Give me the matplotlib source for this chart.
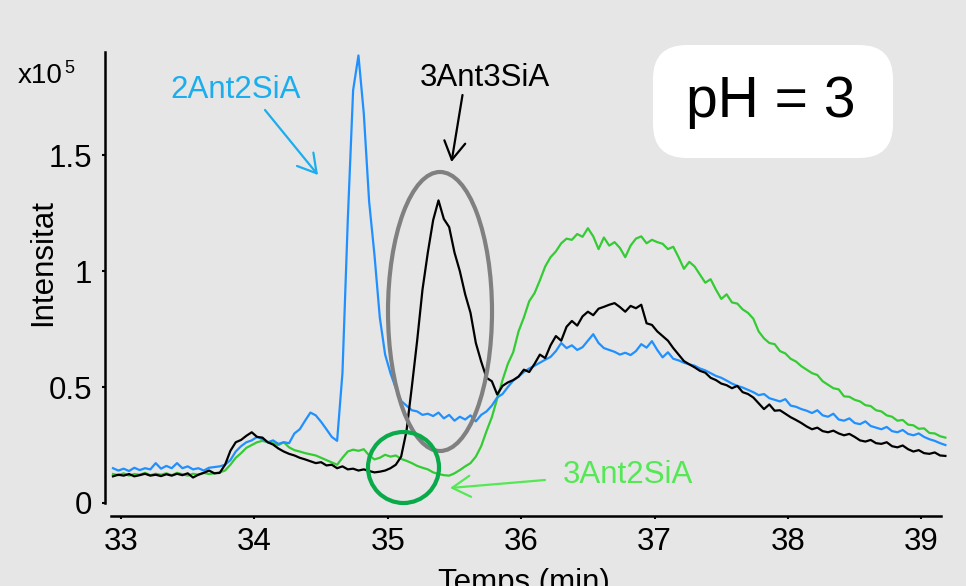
import numpy as np
import matplotlib
matplotlib.use("Agg")
import matplotlib.pyplot as plt
from matplotlib.patches import Ellipse, FancyBboxPatch

plt.rcParams['font.family'] = ['Liberation Sans', 'DejaVu Sans']

# sampling times (min)
time = np.round(32.94 + 0.04 * np.arange(157), 2)

# 2Ant2SiA (blue)
blue = [
    0.150, 0.140, 0.148, 0.138, 0.152, 0.142, 0.150, 0.145, 0.172, 0.148,
    0.160, 0.150, 0.172, 0.150, 0.158, 0.145, 0.150, 0.140, 0.152, 0.155,
    0.158, 0.165, 0.185, 0.222, 0.245, 0.262, 0.270, 0.285, 0.275, 0.262,
    0.270, 0.255, 0.262, 0.258, 0.300, 0.318, 0.355, 0.390, 0.378, 0.350,
    0.318, 0.285, 0.268, 0.560, 1.220, 1.780, 1.930, 1.680, 1.300, 1.070,
    0.800, 0.640, 0.560, 0.495, 0.440, 0.420, 0.400, 0.395, 0.380, 0.385,
    0.375, 0.390, 0.365, 0.380, 0.355, 0.372, 0.360, 0.378, 0.352, 0.380,
    0.395, 0.420, 0.455, 0.470, 0.500, 0.528, 0.545, 0.565, 0.580, 0.592,
    0.605, 0.618, 0.630, 0.655, 0.690, 0.668, 0.680, 0.660, 0.672, 0.700,
    0.728, 0.690, 0.668, 0.660, 0.652, 0.640, 0.648, 0.638, 0.655, 0.685,
    0.670, 0.698, 0.660, 0.628, 0.650, 0.622, 0.615, 0.605, 0.598, 0.592,
    0.580, 0.572, 0.560, 0.548, 0.540, 0.528, 0.515, 0.505, 0.498, 0.488,
    0.478, 0.465, 0.470, 0.452, 0.445, 0.438, 0.448, 0.420, 0.415, 0.405,
    0.398, 0.388, 0.400, 0.378, 0.372, 0.385, 0.360, 0.355, 0.365, 0.345,
    0.340, 0.352, 0.332, 0.325, 0.318, 0.328, 0.310, 0.305, 0.315, 0.298,
    0.292, 0.300, 0.285, 0.275, 0.268, 0.258, 0.250,
]

# 3Ant2SiA (green)
green = [
    0.125, 0.120, 0.128, 0.118, 0.125, 0.122, 0.130, 0.120, 0.126, 0.122,
    0.128, 0.120, 0.130, 0.124, 0.118, 0.126, 0.122, 0.130, 0.125, 0.128,
    0.132, 0.140, 0.165, 0.195, 0.215, 0.238, 0.250, 0.262, 0.268, 0.262,
    0.258, 0.250, 0.262, 0.240, 0.228, 0.222, 0.215, 0.210, 0.205, 0.195,
    0.185, 0.175, 0.165, 0.195, 0.222, 0.230, 0.225, 0.232, 0.205, 0.188,
    0.195, 0.208, 0.200, 0.205, 0.190, 0.182, 0.172, 0.160, 0.152, 0.145,
    0.132, 0.125, 0.120, 0.118, 0.128, 0.142, 0.158, 0.172, 0.200, 0.245,
    0.310, 0.370, 0.450, 0.530, 0.600, 0.650, 0.740, 0.800, 0.870, 0.905,
    0.960, 1.020, 1.060, 1.085, 1.120, 1.140, 1.135, 1.160, 1.148, 1.185,
    1.150, 1.095, 1.145, 1.110, 1.125, 1.100, 1.060, 1.110, 1.140, 1.150,
    1.120, 1.135, 1.125, 1.118, 1.095, 1.105, 1.060, 1.010, 1.040, 1.020,
    0.985, 0.950, 0.965, 0.920, 0.880, 0.900, 0.865, 0.860, 0.835, 0.820,
    0.795, 0.740, 0.710, 0.690, 0.685, 0.655, 0.645, 0.622, 0.610, 0.590,
    0.575, 0.560, 0.552, 0.525, 0.510, 0.495, 0.490, 0.460, 0.458, 0.445,
    0.438, 0.422, 0.418, 0.400, 0.395, 0.378, 0.372, 0.355, 0.358, 0.338,
    0.335, 0.320, 0.322, 0.302, 0.300, 0.288, 0.282,
]

# 3Ant3SiA (black)
black = [
    0.115, 0.122, 0.118, 0.125, 0.115, 0.120, 0.126, 0.118, 0.122, 0.116,
    0.124, 0.118, 0.126, 0.120, 0.128, 0.110, 0.122, 0.130, 0.140, 0.128,
    0.130, 0.165, 0.225, 0.262, 0.272, 0.290, 0.305, 0.285, 0.282, 0.262,
    0.252, 0.235, 0.222, 0.212, 0.205, 0.195, 0.188, 0.180, 0.172, 0.176,
    0.162, 0.165, 0.150, 0.158, 0.145, 0.148, 0.140, 0.145, 0.138, 0.132,
    0.135, 0.140, 0.150, 0.165, 0.200, 0.310, 0.500, 0.700, 0.920, 1.080,
    1.220, 1.305, 1.225, 1.190, 1.080, 1.000, 0.900, 0.820, 0.690, 0.610,
    0.540, 0.525, 0.468, 0.505, 0.520, 0.530, 0.545, 0.575, 0.565, 0.600,
    0.640, 0.625, 0.680, 0.720, 0.700, 0.760, 0.785, 0.765, 0.805, 0.825,
    0.810, 0.838, 0.846, 0.855, 0.862, 0.845, 0.825, 0.850, 0.840, 0.855,
    0.775, 0.768, 0.740, 0.720, 0.700, 0.668, 0.640, 0.612, 0.598, 0.585,
    0.570, 0.562, 0.540, 0.530, 0.515, 0.508, 0.495, 0.505, 0.478, 0.470,
    0.455, 0.430, 0.405, 0.425, 0.398, 0.400, 0.385, 0.370, 0.358, 0.345,
    0.330, 0.318, 0.325, 0.310, 0.305, 0.312, 0.300, 0.292, 0.298, 0.285,
    0.270, 0.265, 0.272, 0.258, 0.255, 0.262, 0.245, 0.240, 0.248, 0.232,
    0.222, 0.228, 0.215, 0.212, 0.218, 0.205, 0.203,
]

x_ticks = [33, 34, 35, 36, 37, 38, 39]
y_ticks = [0, 0.5, 1, 1.5]
y_ticklabels = ["0", "0.5", "1", "1.5"]

W, H = 966, 586
BG = "#e6e6e6"
fig = plt.figure(figsize=(W / 100, H / 100), dpi=100, facecolor=BG)

def fx(px):
    return px / W

def fy(py):
    return 1 - py / H

ax = fig.add_axes([fx(111), fy(503), (941 - 111) / W, (503 - 52) / H])
ax.set_facecolor(BG)

ax.plot(time, green, color="#33cc33", lw=1.6, clip_on=False, zorder=3)
ax.plot(time, blue, color="#2090ff", lw=1.6, clip_on=False, zorder=4)
ax.plot(time, black, color="black", lw=1.6, clip_on=False, zorder=5)

ax.set_xlim(32.925, 39.147)
ax.set_ylim(0, 1.945)

for s in ["top", "right"]:
    ax.spines[s].set_visible(False)
ax.spines["left"].set_position(("outward", 4))
ax.spines["bottom"].set_position(("outward", 9))
for s in ["left", "bottom"]:
    ax.spines[s].set_linewidth(1.8)

ax.set_xticks(x_ticks)
ax.set_xticklabels([str(v) for v in x_ticks])
ax.set_yticks(y_ticks)
ax.set_yticklabels(y_ticklabels)
ax.tick_params(axis="both", direction="out", length=2.5, width=1.5,
               labelsize=22.5, colors="black")
ax.tick_params(axis="x", pad=6)
ax.tick_params(axis="y", pad=7)

fig.text(fx(43), fy(262), "Intensitat", rotation=90, fontsize=22.5,
         ha="center", va="center")
fig.text(fx(524), fy(591), "Temps (min)", fontsize=22.5, ha="center",
         va="baseline")
fig.text(fx(18), fy(83), "x10", fontsize=20, ha="left", va="baseline")
fig.text(fx(64), fy(73), "5", fontsize=13, ha="left", va="baseline")

# pH box
box = FancyBboxPatch((fx(653), fy(158)), (893 - 653) / W, (158 - 45) / H,
                     boxstyle="round,pad=0,rounding_size=0.035",
                     transform=fig.transFigure, facecolor="white",
                     edgecolor="none", zorder=1,
                     mutation_aspect=W / H)
fig.patches.append(box)
fig.text(fx(771), fy(102), "pH = 3", fontsize=41, ha="center", va="center",
         zorder=2)

# highlight shapes
ell = Ellipse((fx(440), fy(311.5)), 104 / W, 279 / H, transform=fig.transFigure,
              fill=False, edgecolor="#808080", lw=3.0, zorder=6)
fig.patches.append(ell)
circ = Ellipse((fx(403.5), fy(467.5)), 71 / W, 71 / H, transform=fig.transFigure,
               fill=False, edgecolor="#0aaa4a", lw=3.0, zorder=6)
fig.patches.append(circ)

# annotations
astyle = "->,head_length=0.65,head_width=0.38"

def arrow(x0, y0, x1, y1, color):
    ax.annotate("", xy=(x1, H - y1), xycoords="figure pixels",
                xytext=(x0, H - y0), textcoords="figure pixels",
                arrowprops=dict(arrowstyle=astyle, color=color, lw=1.6,
                                mutation_scale=20, shrinkA=0, shrinkB=0))

fig.text(fx(235.5), fy(90.5), "2Ant2SiA", fontsize=22.5, color="#1aaeee",
         ha="center", va="center")
arrow(265, 110, 318, 175, "#1aaeee")

fig.text(fx(485), fy(78), "3Ant3SiA", fontsize=22.5, color="black",
         ha="center", va="center")
arrow(462.5, 95, 451.5, 162, "black")

fig.text(fx(628), fy(475), "3Ant2SiA", fontsize=22.5, color="#55e855",
         ha="center", va="center")
arrow(545, 480, 450, 488, "#55e855")

fig.savefig("out.png", dpi=100, facecolor=BG)
